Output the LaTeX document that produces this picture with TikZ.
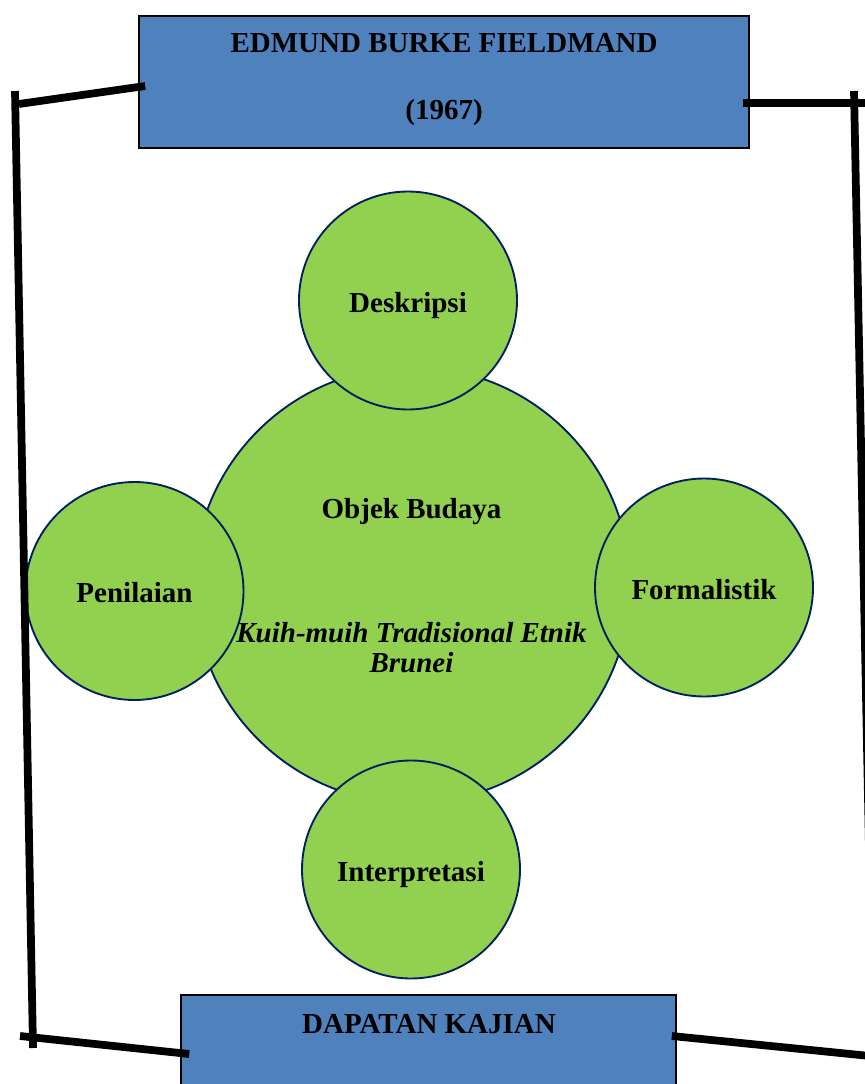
\documentclass[tikz,border=0pt]{standalone}
\usepackage{fontspec}
\setmainfont{Liberation Serif}
\definecolor{boxblue}{HTML}{4F81BD}
\definecolor{cgreen}{HTML}{92D050}
\definecolor{cnavy}{HTML}{002060}
\begin{document}
\begin{tikzpicture}[x=0.75pt,y=-0.75pt,
  txt/.style={font=\fontsize{21.75}{26}\selectfont\bfseries},
  bubble/.style={circle,draw=cnavy,line width=1.4pt,fill=cgreen,inner sep=0pt,
    txt,text height=20pt,text depth=2.75pt},
  hdr/.style={rectangle,draw=black,line width=1.2pt,fill=boxblue,inner sep=0pt},
  lbl/.style={txt,anchor=base,inner sep=0pt},
  bar/.style={line width=5.8pt,black}]
\useasboundingbox (0,0) rectangle (864,1084);
% circles
\node[bubble,minimum size=327pt] (obj) at (412,585) {};
\node[bubble,minimum size=163.5pt] (desk) at (408,300.5) {Deskripsi};
\node[bubble,minimum size=163.5pt] (pen) at (134.5,591) {Penilaian};
\node[bubble,minimum size=163.5pt] (form) at (704,587.5) {Formalistik};
\node[bubble,minimum size=163.5pt] (interp) at (411,869.5) {Interpretasi};
\node[lbl] (objt) at (411.5,518) {Objek Budaya};
\node[lbl] (kuih) at (411.5,642) {\itshape Kuih-muih Tradisional Etnik};
\node[lbl] (brn) at (411.5,672) {\itshape Brunei};
% boxes
\node[hdr,minimum width=457.5pt,minimum height=99pt] (top) at (444,82) {};
\node[hdr,minimum width=371.25pt,minimum height=90pt] (bot) at (428.5,1055) {};
\node[lbl] (t1) at (444,53) {EDMUND BURKE FIELDMAND};
\node[lbl] (t2) at (444,120) {(1967)};
\node[lbl] (t3) at (429,1033) {DAPATAN KAJIAN};
% frame bars
\coordinate (L1) at (19,104);
\coordinate (Lt) at (15,91);
\coordinate (Lb) at (33,1048);
\coordinate (L2) at (20,1036);
\coordinate (R1) at (866,103);
\coordinate (Rt) at (854,91);
\coordinate (Rb) at (874,1100);
\coordinate (R2) at (880,1057);
\draw[bar] ([shift={(7,4)}]top.west) -- (L1);
\draw[bar] (Lt) -- (Lb);
\draw[bar] (L2) -- ([shift={(9,-1)}]bot.west);
\draw[bar] ([shift={(-7,21)}]top.east) -- (R1);
\draw[bar] (Rt) -- (Rb);
\draw[bar] ([shift={(-5,-19)}]bot.east) -- (R2);
\end{tikzpicture}
\end{document}
